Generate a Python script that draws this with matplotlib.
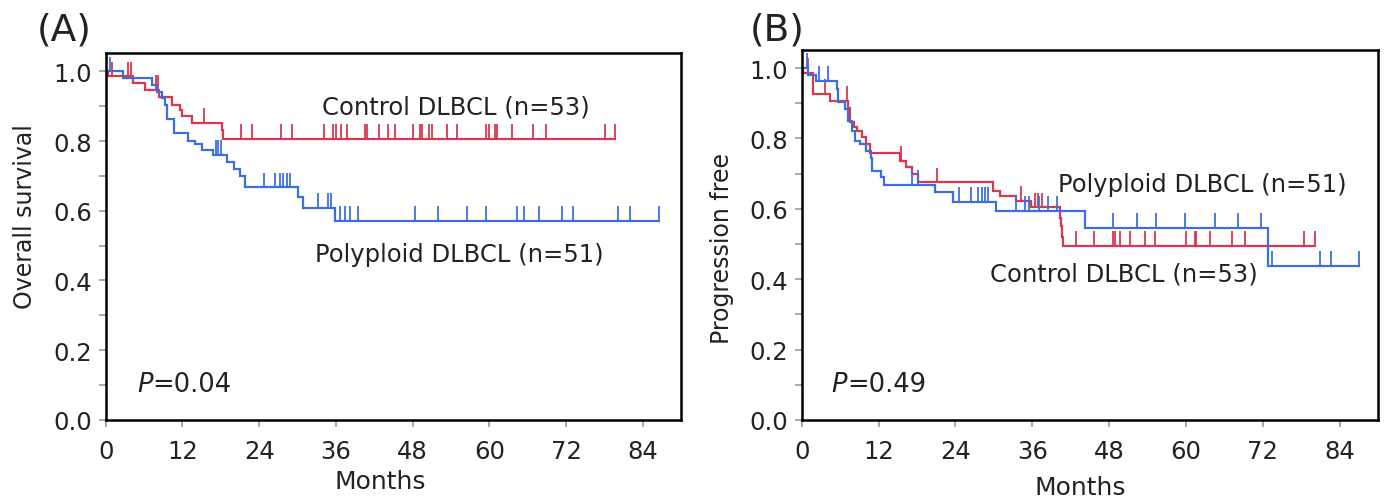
import numpy as np
import matplotlib.pyplot as plt
from matplotlib.ticker import MultipleLocator

plt.rcParams['font.family'] = ['DejaVu Sans', 'Noto Sans CJK JP']

RED = '#d8384f'
BLUE = '#3b6fe0'
INK = '#222222'

# ---------- (A) overall survival ----------
A_ctrl_t = [0, 0.3, 4.3, 6.2, 8.4, 10.3, 11.6, 11.9, 13.5, 18.2, 18.4]
A_ctrl_s = [1.0, 0.986, 0.966, 0.946, 0.925, 0.904, 0.889, 0.873, 0.852, 0.832, 0.806]
A_ctrl_cens = [0.9, 3.5, 4.0, 7.9, 8.2, 15.4, 21.1, 22.8, 27.4, 29.1, 34.1, 35.5, 36.0,
               36.8, 37.7, 40.5, 40.8, 42.8, 44.2, 45.3, 48.1, 49.2, 49.5, 50.6, 51.0,
               53.4, 54.9, 59.5, 59.9, 60.9, 61.2, 63.5, 66.9, 68.9, 78.1, 79.7]

A_poly_t = [0, 2.7, 7.2, 8.0, 8.8, 9.3, 9.6, 10.6, 12.9, 14.0, 15.0, 16.8, 19.0, 20.0,
            21.0, 21.8, 30.1, 30.9, 35.9]
A_poly_s = [1.0, 0.980, 0.961, 0.941, 0.922, 0.902, 0.863, 0.824, 0.801, 0.790, 0.775,
            0.760, 0.740, 0.720, 0.700, 0.667, 0.638, 0.608, 0.571]
A_poly_cens = [0.7, 17.2, 17.6, 18.0, 24.7, 26.5, 27.3, 27.8, 28.3, 28.8, 33.2, 34.7,
               35.2, 36.7, 37.4, 38.2, 39.5, 48.4, 52.0, 56.5, 59.5, 64.3, 65.5, 67.7,
               71.4, 73.1, 80.2, 82.0, 86.5]

# ---------- (B) progression free ----------
B_ctrl_t = [0, 0.2, 1.8, 4.4, 7.3, 7.5, 8.1, 8.6, 9.4, 10.1, 10.65, 15.3, 16.3, 17.3,
            18.2, 29.9, 30.9, 33.5, 35.8, 40.3, 40.5, 40.6, 40.8]
B_ctrl_s = [1.0, 0.986, 0.926, 0.907, 0.885, 0.846, 0.832, 0.822, 0.803, 0.784, 0.758,
            0.737, 0.718, 0.699, 0.675, 0.651, 0.637, 0.622, 0.604, 0.575, 0.550, 0.520,
            0.495]
B_ctrl_cens = [1.0, 3.6, 7.0, 15.5, 21.2, 34.2, 36.4, 36.9, 37.6, 42.9, 45.6, 48.6,
               49.0, 49.7, 51.2, 53.6, 55.1, 60.0, 61.4, 61.6, 63.7, 67.2, 69.3, 78.5,
               80.1]

B_poly_t = [0, 1.0, 2.3, 5.5, 5.6, 5.7, 6.75, 7.3, 7.8, 8.4, 9.1, 10.1, 10.8, 11.0,
            12.4, 12.9, 20.8, 23.6, 30.4, 44.3, 72.8]
B_poly_s = [1.0, 0.980, 0.964, 0.941, 0.922, 0.903, 0.884, 0.850, 0.821, 0.794, 0.784,
            0.765, 0.745, 0.708, 0.689, 0.668, 0.647, 0.620, 0.593, 0.545, 0.437]
B_poly_cens = [0.8, 2.75, 4.15, 17.3, 18.2, 24.5, 26.5, 27.6, 28.1, 28.6, 29.1, 33.4,
               34.9, 35.5, 37.0, 38.5, 39.9, 48.6, 52.4, 55.4, 59.8, 64.6, 68.1, 71.8,
               73.5, 80.9, 82.7, 87.0]

x_ticks = [0, 12, 24, 36, 48, 60, 72, 84]
y_ticks = [0.0, 0.2, 0.4, 0.6, 0.8, 1.0]


def level_at(t_steps, s_steps, t):
    i = np.searchsorted(t_steps, t, side='right') - 1
    return np.asarray(s_steps)[i]


def km(ax, t_steps, s_steps, cens, color):
    t_end = max(cens)
    ax.step(list(t_steps) + [t_end], list(s_steps) + [s_steps[-1]], where='post',
            color=color, lw=1.6, solid_joinstyle='miter')
    cs = level_at(t_steps, s_steps, cens)
    ax.vlines(cens, cs, cs + 0.042, color=color, lw=1.3)


def style_ax(ax, ylabel, top, xlab_pos, ylab_pos):
    ax.set_xlim(0, 90)
    ax.set_ylim(0, top)
    ax.set_xticks(x_ticks)
    ax.set_yticks(y_ticks)
    ax.set_yticklabels([f'{v:.1f}' for v in y_ticks])
    ax.yaxis.set_minor_locator(MultipleLocator(0.1))
    ax.tick_params(axis='both', which='both', color='#999999', width=1.2,
                   labelsize=17.5, labelcolor=INK)
    ax.tick_params(which='major', length=5)
    ax.tick_params(which='minor', length=5)
    ax.tick_params(axis='x', pad=9)
    ax.tick_params(axis='y', pad=5)
    for sp in ax.spines.values():
        sp.set_linewidth(1.8)
        sp.set_color('black')
    ax.set_xlabel('Months', fontsize=18, color=INK)
    ax.xaxis.set_label_coords(*xlab_pos)
    ax.set_ylabel(ylabel, fontsize=17, color=INK)
    ax.yaxis.label.set_verticalalignment('center')
    ax.yaxis.set_label_coords(*ylab_pos)


fig = plt.figure(figsize=(13.88, 5.02), dpi=100)
axA = fig.add_axes([0.0762, 0.1618, 0.4145, 0.7306])
axB = fig.add_axes([0.5776, 0.1614, 0.4152, 0.7376])

km(axA, A_ctrl_t, A_ctrl_s, A_ctrl_cens, RED)
km(axA, A_poly_t, A_poly_s, A_poly_cens, BLUE)
style_ax(axA, 'Overall survival', 1.0525, (0.477, -0.134), (-0.140, 0.556))
axA.text(33.8, 0.90, 'Control DLBCL (n=53)', fontsize=17.5, color=INK, va='center')
axA.text(32.8, 0.476, 'Polyploid DLBCL (n=51)', fontsize=17.5, color=INK, va='center')

km(axB, B_ctrl_t, B_ctrl_s, B_ctrl_cens, RED)
km(axB, B_poly_t, B_poly_s, B_poly_cens, BLUE)
style_ax(axB, 'Progression free', 1.052, (0.483, -0.149), (-0.138, 0.467))
axB.text(40.0, 0.67, 'Polyploid DLBCL (n=51)', fontsize=17.5, color=INK, va='center')
axB.text(29.4, 0.415, 'Control DLBCL (n=53)', fontsize=17.5, color=INK, va='center')

for ax, x, pval in [(axA, 4.9, '=0.04'), (axB, 4.7, '=0.49')]:
    p = ax.text(x, 0.103, 'P', fontsize=18.5, style='italic', color=INK, va='center')
    ax.annotate(pval, xy=(1, 0.5), xycoords=p, va='center', fontsize=18.5, color=INK)

fig.text(0.0267, 0.94, '(A)', fontsize=27, color=INK, va='center')
fig.text(0.540, 0.94, '(B)', fontsize=27, color=INK, va='center')

fig.savefig('out.png', dpi=100)
